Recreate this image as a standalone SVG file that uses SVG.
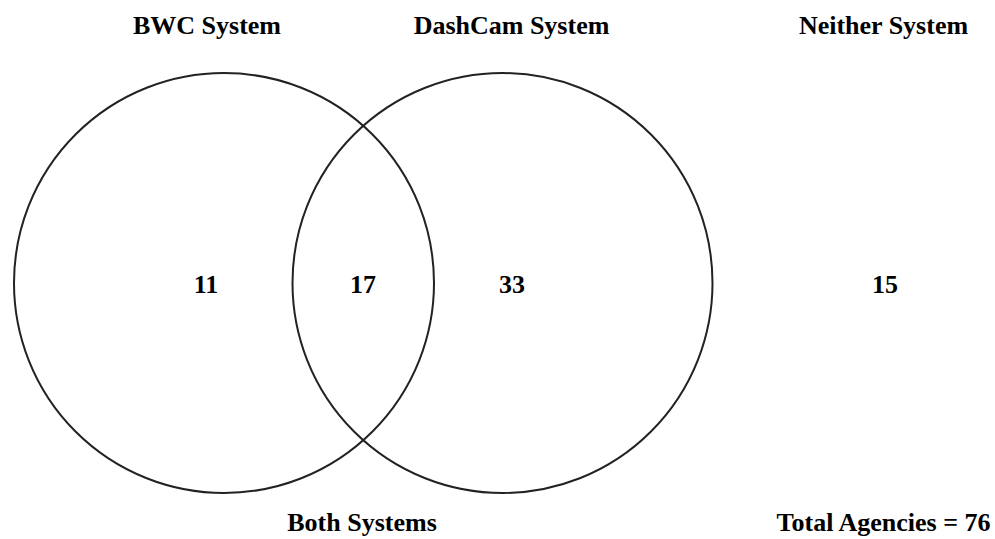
<svg xmlns="http://www.w3.org/2000/svg" width="995" height="539" viewBox="0 0 995 539">
<style>
text{font-family:"Liberation Serif","Times New Roman",serif;font-weight:bold;font-size:26px;fill:#000;text-anchor:middle}
.c{fill:none;stroke:#222;stroke-width:2}
</style>
<rect width="995" height="539" fill="#fff"/>
<g id="bwc">
<circle class="c" cx="224" cy="283" r="210"/>
<text x="207" y="34">BWC System</text>
<text x="206" y="293">11</text>
</g>
<g id="dashcam">
<circle class="c" cx="502.5" cy="283" r="210"/>
<text x="511.5" y="34">DashCam System</text>
<text x="512" y="293">33</text>
</g>
<g id="both">
<text x="363" y="293">17</text>
<text x="362" y="531">Both Systems</text>
</g>
<g id="neither">
<text x="883.5" y="34">Neither System</text>
<text x="885" y="293">15</text>
</g>
<g id="total">
<text x="883.5" y="531">Total Agencies = 76</text>
</g>
<g id="connectors"></g>
</svg>
